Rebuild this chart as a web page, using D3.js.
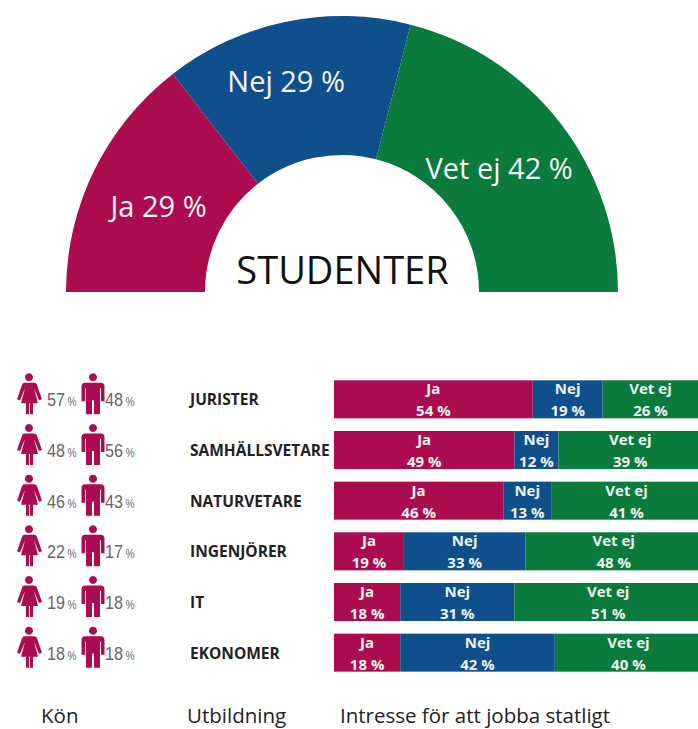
<!DOCTYPE html>
<html>
<head>
<meta charset="utf-8">
<script src="https://cdnjs.cloudflare.com/ajax/libs/d3/7.8.5/d3.min.js"></script>
<style>
  html, body { margin: 0; padding: 0; background: #fff; }
  text { font-family: "Open Sans", sans-serif; }
</style>
</head>
<body>
<div id="chart"></div>
<script>
// data
var answers = ["Ja", "Nej", "Vet ej"];
var studentValues = [29, 29, 42];
var educations = ["JURISTER", "SAMHÄLLSVETARE", "NATURVETARE", "INGENJÖRER", "IT", "EKONOMER"];
var womenPct = [57, 48, 46, 22, 19, 18];
var menPct = [48, 56, 43, 17, 18, 18];
var jaPct = [54, 49, 46, 19, 18, 18];
var nejPct = [19, 12, 13, 33, 31, 42];
var vetEjPct = [26, 39, 41, 48, 51, 40];
var columnTitles = ["Kön", "Utbildning", "Intresse för att jobba statligt"];

var color = d3.scaleOrdinal()
    .domain(answers)
    .range(["#ab0c50", "#0f4f8b", "#0a7a3d"]);

var width = 698;
var height = 729;

var svg = d3.select("#chart")
  .append("svg")
  .attr("width", width)
  .attr("height", height)
  .style("display", "block");

// half donut
var cx = 342, cy = 292;

var pie = d3.pie()
    .sort(null)
    .startAngle(-Math.PI / 2)
    .endAngle(Math.PI / 2);

var arc = d3.arc()
    .innerRadius(137)
    .outerRadius(276);

var slices = pie(studentValues);
var donut = svg.append("g").attr("transform", "translate(" + cx + "," + cy + ")");

donut.selectAll("path")
  .data(slices)
  .enter().append("path")
  .attr("d", arc)
  .attr("fill", function(d, i) { return color(answers[i]); });

// labels sit a little off the centroid in the original
var nudge = [[2, 6], [-14, -8], [-6, 3]];

donut.selectAll("text")
  .data(slices)
  .enter().append("text")
  .attr("transform", function(d, i) {
    var c = arc.centroid(d);
    return "translate(" + (c[0] + nudge[i][0]) + "," + (c[1] + nudge[i][1]) + ")";
  })
  .attr("text-anchor", "middle")
  .attr("dy", "0.35em")
  .attr("fill", "#f4f4f4")
  .style("font-size", "29px")
  .text(function(d, i) { return answers[i] + " " + d.value + " %"; });

svg.append("text")
  .attr("x", 342.5)
  .attr("y", 284)
  .attr("text-anchor", "middle")
  .attr("fill", "#111")
  .style("font-size", "38px")
  .text("STUDENTER");

// rows
var y = d3.scaleBand()
    .domain(educations)
    .range([374, 678])
    .paddingInner(0.25)
    .paddingOuter(0.125);

var x = d3.scaleLinear()
    .domain([0, 100])
    .range([334, 702]);

var rowData = educations.map(function(name, i) {
  return { name: name, Ja: jaPct[i], Nej: nejPct[i], "Vet ej": vetEjPct[i], women: womenPct[i], men: menPct[i] };
});

var stack = d3.stack().keys(answers);
var layers = stack(rowData);

var layer = svg.selectAll(".layer")
  .data(layers)
  .enter().append("g")
  .attr("class", "layer");

layer.selectAll("rect")
  .data(function(d) { return d.map(function(p) { return { key: d.key, p: p }; }); })
  .enter().append("rect")
  .attr("x", function(d) { return x(d.p[0]); })
  .attr("y", function(d) { return y(d.p.data.name); })
  .attr("width", function(d) { return x(d.p[1]) - x(d.p[0]); })
  .attr("height", y.bandwidth())
  .attr("fill", function(d) { return color(d.key); });

var barText = layer.selectAll("g")
  .data(function(d) { return d.map(function(p) { return { key: d.key, p: p }; }); })
  .enter().append("g")
  .attr("transform", function(d) {
    return "translate(" + (x(d.p[0]) + x(d.p[1])) / 2 + "," + y(d.p.data.name) + ")";
  })
  .attr("text-anchor", "middle")
  .attr("fill", "#eef3ee")
  .style("font-size", "15px")
  .style("font-weight", 700);

barText.append("text")
  .attr("y", 14)
  .text(function(d) { return d.key; });

barText.append("text")
  .attr("y", 36)
  .text(function(d) { return (d.p[1] - d.p[0]) + " %"; });

// education names
svg.selectAll(".edu")
  .data(educations)
  .enter().append("text")
  .attr("class", "edu")
  .attr("x", 190)
  .attr("y", function(d) { return y(d) + y.bandwidth() / 2 + 6; })
  .attr("fill", "#222")
  .style("font-size", "15.5px")
  .style("font-weight", 700)
  .text(function(d) { return d; });

// person icons, drawn in a 30x42 box
var womanPath = "M15 0a4 4 0 1 1-.01 0zM10 9.5h10c1.5 0 2.4.8 3 2.2l5 14.3-3 1-5-12 4 15h-5v11h-3V30h-1v11h-3V30H7l4-15-5 12-3-1 5-14.3c.6-1.4 1.5-2.2 2-2.2z";
var manPath = "M15 0a4 4 0 1 1-.01 0zM7 9.5h16c2.2 0 3.5 1.5 3.5 4V28h-3.5V15h-1v26h-6V27h-2v14h-6V15h-1v13H3.5V13.5c0-2.5 1.3-4 3.5-4z";

var iconRows = svg.selectAll(".gender")
  .data(rowData)
  .enter().append("g")
  .attr("class", "gender")
  .attr("transform", function(d) { return "translate(0," + (y(d.name) - 7) + ")"; });

iconRows.append("path")
  .attr("d", womanPath)
  .attr("transform", "translate(14,0)")
  .attr("fill", color("Ja"));

iconRows.append("path")
  .attr("d", manPath)
  .attr("transform", "translate(78,0)")
  .attr("fill", color("Ja"));

function addPct(sel, xPos, key) {
  var t = sel.append("text")
    .attr("transform", "translate(" + xPos + ",33) scale(0.85,1)")
    .attr("fill", "#666")
    .style("font-family", "'Liberation Sans', sans-serif")
    .style("font-size", "19px");
  t.append("tspan").text(function(d) { return d[key]; });
  t.append("tspan").attr("dx", 3).style("font-size", "12px").text("%");
}
addPct(iconRows, 47, "women");
addPct(iconRows, 105, "men");

// column titles, bottom edge of the page is tight
svg.selectAll(".title")
  .data(columnTitles)
  .enter().append("text")
  .attr("class", "title")
  .attr("x", function(d, i) { return [41, 187, 340][i]; })
  .attr("y", 723)
  .attr("fill", "#222")
  .style("font-size", "20.5px")
  .text(function(d) { return d; });
</script>
</body>
</html>
